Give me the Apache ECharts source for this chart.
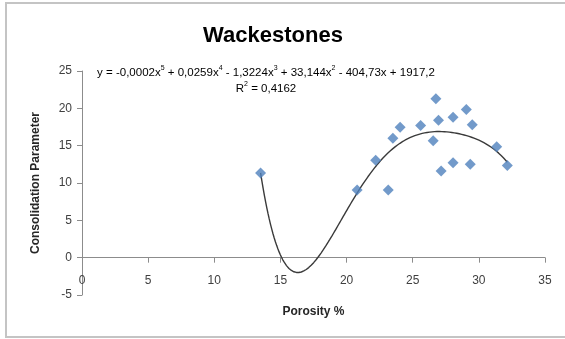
<!DOCTYPE html>
<html>
<head>
<meta charset="utf-8">
<script src="https://cdn.jsdelivr.net/npm/echarts@6/dist/echarts.min.js"></script>
<style>
  html, body { margin: 0; padding: 0; background: #ffffff; }
  #chart { width: 565px; height: 339px; }
</style>
</head>
<body>
<div id="chart"></div>
<script>
// Porosity (%) of each wackestone sample
const porosity = [13.5, 20.8, 22.2, 23.15, 23.5, 24.05, 25.6, 26.55, 26.75, 26.95, 27.15, 28.05, 28.05, 29.05, 29.35, 29.5, 31.35, 32.15];
// Consolidation parameter measured on the same samples
const consolidation = [11.35, 9.05, 13.05, 9.05, 16.0, 17.45, 17.7, 15.65, 21.3, 18.4, 11.6, 18.8, 12.7, 19.85, 12.5, 17.8, 14.85, 12.35];

const xTicks = { min: 0, max: 35, step: 5 };
const yTicks = { min: -5, max: 25, step: 5 };

const equationText = 'y = -0,0002x{s|5} + 0,0259x{s|4} - 1,3224x{s|3} + 33,144x{s|2} - 404,73x + 1917,2';
const r2Text = 'R{s|2} = 0,4162';

// Least-squares polynomial fit (degree 5) of the samples, on a centred/scaled variable
function polyFit(xs, ys, degree) {
  const c = 23, s = 10;
  const n = degree + 1;
  const A = Array.from({ length: n }, () => new Array(n + 1).fill(0));
  for (let k = 0; k < xs.length; k++) {
    const t = (xs[k] - c) / s;
    const pw = [];
    for (let i = 0; i < 2 * n; i++) pw.push(Math.pow(t, i));
    for (let i = 0; i < n; i++) {
      for (let j = 0; j < n; j++) A[i][j] += pw[i + j];
      A[i][n] += pw[i] * ys[k];
    }
  }
  for (let col = 0; col < n; col++) {
    let piv = col;
    for (let r = col + 1; r < n; r++) if (Math.abs(A[r][col]) > Math.abs(A[piv][col])) piv = r;
    [A[col], A[piv]] = [A[piv], A[col]];
    for (let r = 0; r < n; r++) {
      if (r === col) continue;
      const f = A[r][col] / A[col][col];
      for (let j = col; j <= n; j++) A[r][j] -= f * A[col][j];
    }
  }
  const coef = A.map((row, i) => row[n] / row[i]);
  return x => {
    const t = (x - c) / s;
    let v = 0;
    for (let i = n - 1; i >= 0; i--) v = v * t + coef[i];
    return v;
  };
}

const fit = polyFit(porosity, consolidation, 5);
const xLo = Math.min(...porosity), xHi = Math.max(...porosity);
const trend = [];
for (let i = 0; i <= 200; i++) {
  const x = xLo + (xHi - xLo) * i / 200;
  trend.push([x, fit(x)]);
}

// Plot box (px) and where the value 0 sits inside it, so the x axis crosses at y = 0
const grid = { left: 82, right: 20, top: 71, bottom: 44 };
const plotH = 339 - grid.top - grid.bottom;
const zeroLift = plotH * (0 - yTicks.min) / (yTicks.max - yTicks.min);

const font = '"Liberation Sans", Arial, sans-serif';
const chart = echarts.init(document.getElementById('chart'), null, { renderer: 'canvas' });
chart.setOption({
  backgroundColor: '#ffffff',
  animation: false,
  textStyle: { fontFamily: font },
  graphic: [{
    type: 'rect',
    shape: { x: 6, y: 3, width: 600, height: 334 },
    style: { fill: 'none', stroke: '#c4c4c4', lineWidth: 2 },
    silent: true
  }],
  title: [
    {
      text: 'Wackestones',
      left: 268, top: 20, textAlign: 'center',
      textStyle: { fontSize: 22, fontWeight: 'bold', color: '#000000', fontFamily: font }
    },
    {
      text: equationText + '\n' + r2Text,
      left: 261, top: 60, textAlign: 'center',
      textStyle: {
        fontSize: 11.5, fontWeight: 'normal', color: '#000000', fontFamily: font, lineHeight: 16, align: 'center',
        rich: { s: { fontSize: 7, fontWeight: 'normal', verticalAlign: 'top', padding: [0, 0, 7, 0], color: '#000000', fontFamily: font } }
      }
    }
  ],
  grid: Object.assign({ containLabel: false, outerBoundsMode: 'none' }, grid),
  xAxis: {
    type: 'value',
    min: xTicks.min, max: xTicks.max, interval: xTicks.step,
    position: 'bottom',
    offset: -zeroLift,
    name: 'Porosity %',
    nameLocation: 'middle', nameGap: 48,
    nameTextStyle: { fontSize: 12, fontWeight: 'bold', color: '#262626', fontFamily: font },
    axisLine: { onZero: false, lineStyle: { color: '#8c8c8c', width: 1 } },
    axisTick: { show: true, length: 5, inside: false, lineStyle: { color: '#8c8c8c' } },
    axisLabel: { fontSize: 12, color: '#404040', margin: 17, fontFamily: font },
    splitLine: { show: false }
  },
  yAxis: {
    type: 'value',
    min: yTicks.min, max: yTicks.max, interval: yTicks.step,
    name: 'Consolidation Parameter',
    nameLocation: 'middle', nameGap: 40, nameRotate: 90,
    nameTextStyle: { fontSize: 12, fontWeight: 'bold', color: '#262626', fontFamily: font },
    axisLine: { show: true, onZero: false, lineStyle: { color: '#8c8c8c', width: 1 } },
    axisTick: { show: true, length: 5, lineStyle: { color: '#8c8c8c' } },
    axisLabel: { fontSize: 12, color: '#404040', margin: 10, fontFamily: font },
    splitLine: { show: false }
  },
  series: [
    {
      type: 'line',
      data: trend,
      showSymbol: false,
      smooth: false,
      lineStyle: { color: '#3a3a3a', width: 1.4 },
      z: 2
    },
    {
      type: 'scatter',
      data: porosity.map((x, i) => [x, consolidation[i]]),
      symbol: 'diamond',
      symbolSize: 11,
      itemStyle: { color: '#4F81BD' },
      z: 3
    }
  ]
});
</script>
</body>
</html>
